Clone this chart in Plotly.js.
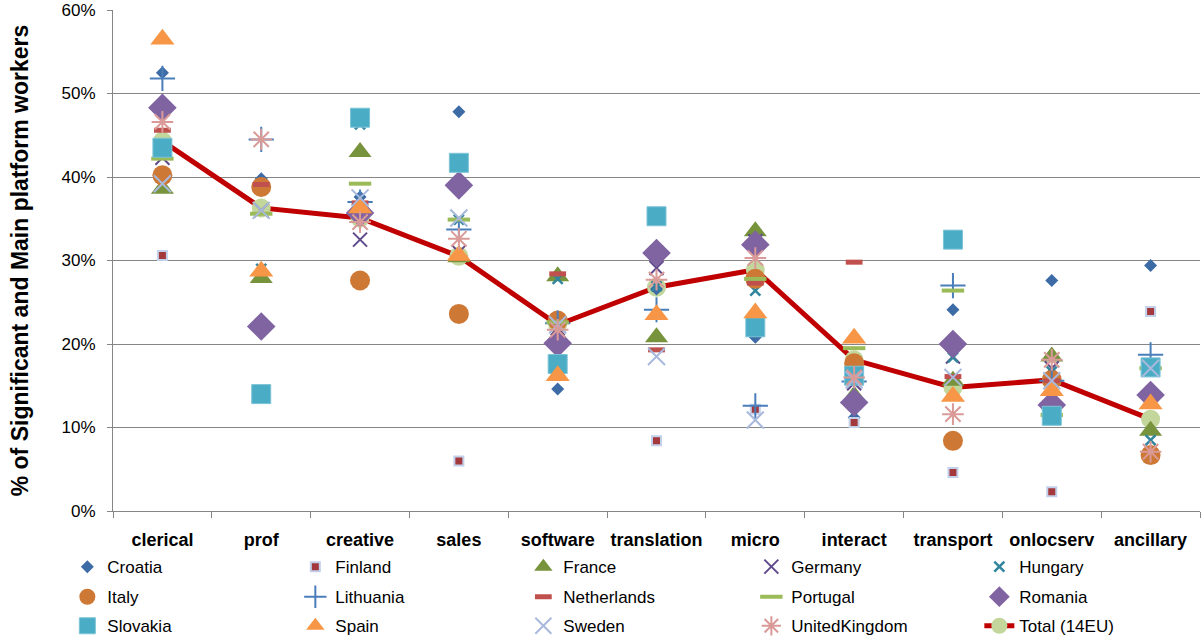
<!DOCTYPE html>
<html>
<head>
<meta charset="utf-8">
<script src="https://cdn.plot.ly/plotly-3.0.1.min.js"></script>
<style>
  html, body { margin: 0; padding: 0; background: #fff; }
  #chart { width: 1204px; height: 644px; }
</style>
</head>
<body>
<div id="chart"></div>
<script>
// Work categories on the x axis
const categories = ['clerical', 'prof', 'creative', 'sales', 'software', 'translation',
  'micro', 'interact', 'transport', 'onlocserv', 'ancillary'];

// Share of significant and main platform workers (%) by country
const croatia     = [52.5, 39.8, 37.6, 47.8, 14.6, 26.6, 20.8, 11.2, 24.1, 27.6, 29.4];
const finland     = [30.6, null, null, 6.0, null, 8.4, 12.2, 10.6, 4.6, 2.3, 23.9];
const france      = [38.6, 27.9, 43.0, 30.4, 28.1, 20.8, 33.5, 13.8, 15.6, 18.5, 9.6];
const germany     = [42.3, 36.0, 32.5, 31.0, 21.9, 29.1, 32.3, 15.3, 18.5, 17.1, null];
const hungary     = [43.5, 29.0, 46.3, 34.9, 27.8, 26.9, 26.4, 16.0, 18.4, 16.7, 8.5];
const italy       = [40.2, 38.8, 27.6, 23.6, 22.8, 30.9, 27.8, 17.7, 8.4, 15.7, 6.7];
const lithuania   = [51.8, 44.5, 37.0, 33.7, 22.5, 24.1, 12.6, 15.5, 27.0, 15.6, 18.7];
const netherlands = [45.6, 39.1, 36.9, 30.3, 28.4, 19.3, 27.3, 29.8, 16.1, 15.6, 17.1];
const portugal    = [42.2, 35.6, 39.2, 34.9, 22.6, 30.9, 27.8, 19.5, 26.4, 11.5, 17.1];
const romania     = [48.3, 22.1, 35.7, 39.0, 20.1, 30.9, 31.9, 13.0, 20.0, 12.7, 13.9];
const slovakia    = [43.5, 14.0, 47.1, 41.7, 17.6, 35.3, 22.0, 16.2, 32.5, 11.4, 17.2];
const spain       = [56.5, 28.7, 36.3, 30.6, 16.2, 23.5, 23.7, 20.7, 13.7, 14.4, 12.8];
const sweden      = [39.2, 36.0, 37.5, 35.1, 22.3, 18.5, 10.9, 15.7, 16.0, 15.6, 17.1];
const unitedKingdom = [46.6, 44.5, 34.6, 32.6, 21.7, 27.7, 30.3, 16.0, 11.6, 18.1, 7.1];
const total14EU   = [44.3, 36.3, 35.1, 30.5, 22.3, 26.8, 28.9, 18.1, 14.8, 15.7, 11.0];

const yTicks = [0, 10, 20, 30, 40, 50, 60];

const FONT = 'Liberation Sans, Arial, sans-serif';

function pts(name, y, marker, legend, rank) {
  return {
    type: 'scatter', mode: 'markers', name: name,
    x: categories, y: y, marker: marker, legend: legend, legendrank: rank,
    cliponaxis: false, hoverinfo: 'name+y'
  };
}

const traces = [
  // Average line sits beneath the country markers
  {
    type: 'scatter', mode: 'lines+markers', name: 'Total (14EU)',
    x: categories, y: total14EU, legend: 'legend3', legendrank: 5, cliponaxis: false,
    line: { color: '#C00000', width: 5 },
    marker: { symbol: 'circle', size: 19, color: '#C3D69B' }
  },
  pts('Croatia', croatia, { symbol: 'diamond', size: 10, color: '#3C6BA6' }, 'legend', 1),
  pts('Finland', finland, { symbol: 'square', size: 9, color: '#A3393C',
    line: { color: '#C3D0EA', width: 2 } }, 'legend', 2),
  pts('France', france, { symbol: 'triangle-up', size: 20, color: '#77933C' }, 'legend', 3),
  pts('Germany', germany, { symbol: 'x-thin-open', size: 14, color: '#5F4A8B',
    line: { color: '#5F4A8B', width: 2 } }, 'legend', 4),
  pts('Hungary', hungary, { symbol: 'x-thin-open', size: 10, color: '#31859C',
    line: { color: '#31859C', width: 2.5 } }, 'legend', 5),
  pts('Italy', italy, { symbol: 'circle', size: 20, color: '#CE7835' }, 'legend2', 1),
  pts('Lithuania', lithuania, { symbol: 'cross-thin-open', size: 18, color: '#4A7EBB',
    line: { color: '#4A7EBB', width: 2 } }, 'legend2', 2),
  pts('Netherlands', netherlands, { symbol: 'line-ew-open', size: 12, color: '#C0504D',
    line: { color: '#C0504D', width: 5 } }, 'legend2', 3),
  pts('Portugal', portugal, { symbol: 'line-ew-open', size: 16, color: '#9BBB59',
    line: { color: '#9BBB59', width: 4 } }, 'legend2', 4),
  pts('Romania', romania, { symbol: 'diamond', size: 22, color: '#8064A2' }, 'legend2', 5),
  pts('Slovakia', slovakia, { symbol: 'square', size: 19, color: '#4BACC6',
    line: { color: '#7CC3D6', width: 1 } }, 'legend3', 1),
  pts('Spain', spain, { symbol: 'triangle-up', size: 21, color: '#F79646' }, 'legend3', 2),
  pts('Sweden', sweden, { symbol: 'x-thin-open', size: 17, color: '#A8B9DC',
    line: { color: '#A8B9DC', width: 2 } }, 'legend3', 3),
  pts('UnitedKingdom', unitedKingdom, { symbol: 'asterisk-open', size: 18, color: '#DA9A98',
    line: { color: '#DA9A98', width: 2 } }, 'legend3', 4)
];

// One legend per row so the three rows sit on a fixed pitch
function legendRow(yPaper) {
  return {
    orientation: 'h', x: -0.042, xanchor: 'left', y: yPaper, yanchor: 'middle',
    traceorder: 'normal', entrywidth: 183, entrywidthmode: 'pixels',
    font: { size: 17, color: '#000000', family: FONT }, bgcolor: 'rgba(0,0,0,0)'
  };
}

const layout = {
  width: 1204, height: 644,
  margin: { l: 113, r: 4, t: 10, b: 133, autoexpand: false },
  paper_bgcolor: '#ffffff', plot_bgcolor: '#ffffff',
  font: { family: FONT, color: '#000000' },
  showlegend: true,
  legend: legendRow(-0.112),
  legend2: legendRow(-0.172),
  legend3: legendRow(-0.230),
  xaxis: {
    type: 'category', categoryorder: 'array', categoryarray: categories,
    range: [-0.5, categories.length - 0.5], automargin: false,
    showline: true, linecolor: '#868686', linewidth: 1,
    ticks: 'outside', tickson: 'boundaries', ticklen: 6, tickcolor: '#868686',
    showgrid: false, zeroline: false, tickangle: 0,
    tickfont: { size: 18, color: '#000000', family: FONT, weight: 'bold' },
    ticklabelstandoff: 12
  },
  yaxis: {
    range: [0, 60], tickvals: yTicks, ticktext: yTicks.map(v => v + '%'),
    automargin: false,
    showline: true, linecolor: '#868686', linewidth: 1,
    ticks: 'outside', ticklen: 5, tickcolor: '#868686',
    showgrid: true, gridcolor: '#868686', gridwidth: 1, zeroline: false,
    tickfont: { size: 17, color: '#000000' },
    ticklabelstandoff: 8,
    title: {
      text: '% of Significant and Main platform workers',
      font: { size: 23, color: '#000000', weight: 'bold' },
      standoff: 26
    }
  }
};

Plotly.newPlot('chart', traces, layout, { displayModeBar: false, staticPlot: true });
</script>
</body>
</html>
